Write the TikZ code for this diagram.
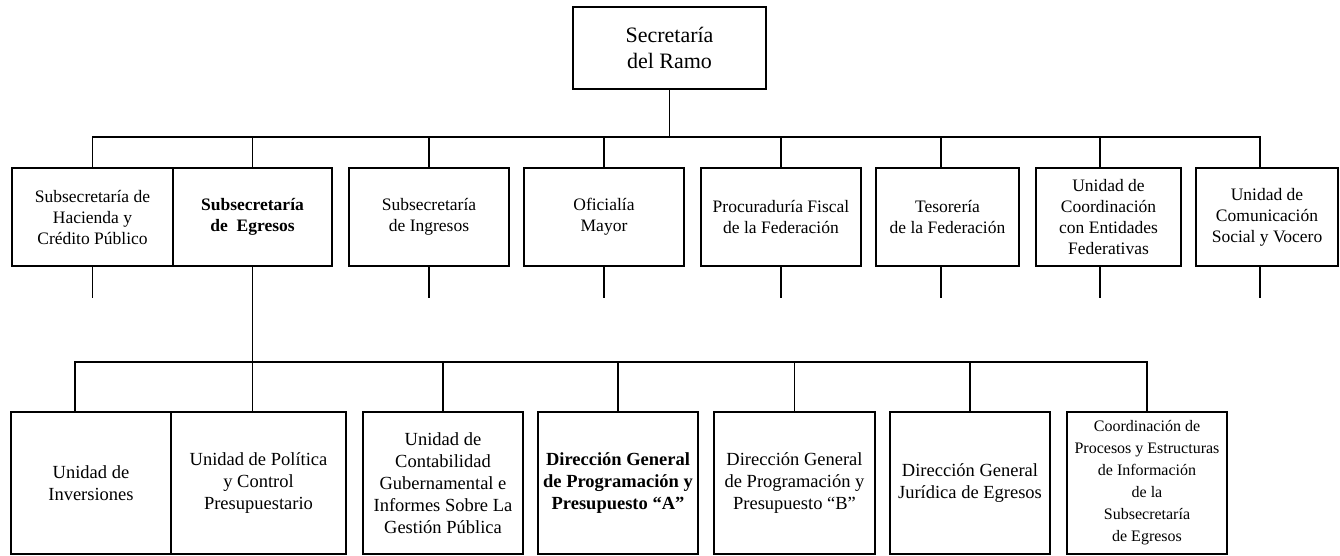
\documentclass[tikz,border=0pt]{standalone}
\usepackage{fontspec}
\setmainfont{Liberation Serif}
\begin{document}
\begin{tikzpicture}[x=1pt,y=-1pt,
  box/.style={draw=black, line width=1.7pt, fill=white, align=center, inner sep=2pt},
  top/.style={box, minimum width=193pt, minimum height=82pt, font=\fontsize{22}{26}\selectfont},
  mid/.style={box, minimum height=98pt, font=\fontsize{17.5}{21}\selectfont},
  low/.style={box, minimum height=142pt, font=\fontsize{18.5}{22}\selectfont},
  wire/.style={draw=black, line width=1.7pt}]
\useasboundingbox (0,0) rectangle (1340,555);
% top
\node[top] (sec) at (669.5,48) {Secretaría\\del Ramo};
% second row
\node[mid, minimum width=161pt] (r1) at (92.5,217) {Subsecretaría de\\Hacienda y\\Crédito Público};
\node[mid, minimum width=159pt] (r2) at (252.5,217) {\bfseries Subsecretaría\\\bfseries de\ \ Egresos};
\node[mid, minimum width=160pt] (r3) at (429,217) {Subsecretaría\\de Ingresos};
\node[mid, minimum width=160pt] (r4) at (604,217) {Oficialía\\Mayor};
\node[mid, minimum width=160pt] (r5) at (781,217) {Procuraduría Fiscal\\de la Federación};
\node[mid, minimum width=143pt] (r6) at (947.5,217) {Tesorería\\de la Federación};
\node[mid, minimum width=145pt] (r7) at (1108.5,217) {Unidad de\\Coordinación\\con Entidades\\Federativas};
\node[mid, minimum width=142pt] (r8) at (1267,217) {Unidad de\\Comunicación\\Social y Vocero};
% bottom row
\node[low, minimum width=160pt] (b1) at (91,483) {Unidad de\\Inversiones};
\node[low, minimum width=175pt] (b2) at (258.5,483) {Unidad de Política\\y Control\\Presupuestario};
\node[low, minimum width=160pt] (b3) at (443,483) {Unidad de\\Contabilidad\\Gubernamental e\\Informes Sobre La\\Gestión Pública};
\node[low, minimum width=160pt] (b4) at (618,483) {\bfseries Dirección General\\\bfseries de Programación y\\\bfseries Presupuesto “A”};
\node[low, minimum width=161pt] (b5) at (794.5,483) {Dirección General\\de Programación y\\Presupuesto “B”};
\node[low, minimum width=160pt] (b6) at (970,483) {Dirección General\\Jurídica de Egresos};
\node[low, minimum width=160pt, font=\fontsize{16}{22}\selectfont] (b7) at (1147,483) {Coordinación de\\Procesos y Estructuras\\de Información\\de la\\Subsecretaría\\de Egresos};
% upper bus
\coordinate (bus1) at (669.5,137);
\draw[wire] (sec.south) -- (bus1);
\draw[wire] (r1.north) -- (r1.north |- bus1) -- ([xshift=-7pt]r8.north |- bus1) -- ([xshift=-7pt]r8.north);
\foreach \n in {r2,r3,r4,r5}{\draw[wire] (\n.north) -- (\n.north |- bus1);}
\draw[wire] ([xshift=-6.5pt]r6.north) -- ([xshift=-6.5pt]r6.north |- bus1);
\draw[wire] ([xshift=-8.5pt]r7.north) -- ([xshift=-8.5pt]r7.north |- bus1);
% stubs below second row
\foreach \n/\dx in {r1/0,r3/0,r4/0,r5/0,r6/-6.5,r7/-8.5,r8/-7}{
  \draw[wire] ([xshift=\dx pt]\n.south) -- ++(0,31);}
% lower bus
\coordinate (bus2) at (600,362);
\draw[wire] (r2.south) -- (r2.south |- bus2);
\draw[wire] ([xshift=-16pt]b1.north) -- ([xshift=-16pt]b1.north |- bus2) -- (b7.north |- bus2) -- (b7.north);
\draw[wire] ([xshift=-6pt]b2.north) -- ([xshift=-6pt]b2.north |- bus2);
\foreach \n in {b3,b4,b5,b6}{\draw[wire] (\n.north) -- (\n.north |- bus2);}
\end{tikzpicture}
\end{document}
